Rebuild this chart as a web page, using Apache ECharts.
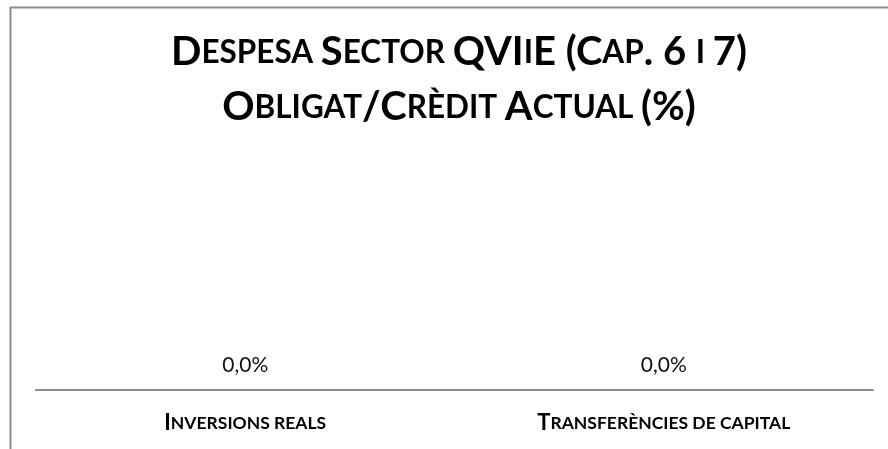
<!DOCTYPE html>
<html>
<head>
<meta charset="utf-8">
<script src="https://cdn.jsdelivr.net/npm/echarts@6/dist/echarts.min.js"></script>
<style>html,body{margin:0;padding:0;background:#fff}#c{width:888px;height:449px}</style>
</head>
<body>
<div id="c"></div>
<script>
var titleLines = ['Despesa Sector QVIiE (Cap. 6 i 7)', 'Obligat/Crèdit Actual (%)'];
var categories = ['Inversions reals', 'Transferències de capital'];
var values = [0.0, 0.0];

function smallCaps(str) {
  var out = '', cur = null, buf = '';
  for (var i = 0; i < str.length; i++) {
    var ch = str[i];
    var isLower = ch !== ch.toUpperCase();
    var st = ch === ' ' ? (cur || 'b') : (isLower ? 's' : 'b');
    if (st !== cur && buf) { out += '{' + cur + '|' + buf + '}'; buf = ''; }
    cur = st;
    buf += isLower ? ch.toUpperCase() : ch;
  }
  if (buf) out += '{' + cur + '|' + buf + '}';
  return out;
}

var FONT = 'Lato';
var chart = echarts.init(document.getElementById('c'));
chart.setOption({
  backgroundColor: '#fff',
  animation: false,
  title: {
    text: titleLines.map(smallCaps).join('\n'),
    left: 454,
    textAlign: 'center',
    top: 20,
    textStyle: {
      rich: {
        b: { fontFamily: FONT, fontWeight: 'bold', fontSize: 40, color: '#000', lineHeight: 55 },
        s: { fontFamily: FONT, fontWeight: 'bold', fontSize: 31.5, color: '#000', lineHeight: 55 }
      }
    }
  },
  graphic: [{
    type: 'rect', left: 8, top: 5, silent: true,
    shape: { width: 1000, height: 1000 },
    style: { fill: 'none', stroke: '#8c8c8c', lineWidth: 2 }
  }],
  grid: { left: 36, right: 15, bottom: 59, top: 150 },
  xAxis: {
    type: 'category',
    data: categories,
    axisLine: { lineStyle: { color: '#8c8c8c', width: 2 } },
    axisTick: { show: false },
    axisLabel: {
      margin: 22,
      formatter: function (v) { return smallCaps(v); },
      rich: {
        b: { fontFamily: FONT, fontWeight: 'bold', fontSize: 22, color: '#000' },
        s: { fontFamily: FONT, fontWeight: 'bold', fontSize: 17.5, color: '#000' }
      }
    }
  },
  yAxis: { type: 'value', min: 0, max: 1, show: false },
  series: [{
    type: 'bar',
    data: values,
    barWidth: '50%',
    itemStyle: { color: '#4f81bd' },
    label: {
      show: true, position: 'top', distance: 14,
      fontFamily: FONT, fontSize: 21, color: '#111',
      formatter: function (p) { return p.value.toFixed(1).replace('.', ',') + '%'; }
    }
  }]
});
</script>
</body>
</html>
